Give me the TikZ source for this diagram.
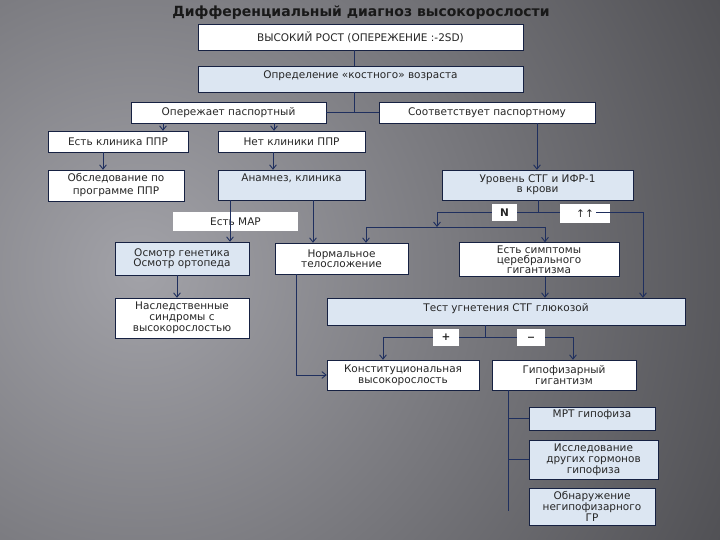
\documentclass[tikz,border=0pt]{standalone}
\usepackage{fontspec}
\setmainfont{DejaVu Sans}
\usetikzlibrary{arrows.meta,positioning,shadows}
\definecolor{boxblue}{HTML}{DCE6F2}
\definecolor{wirenavy}{HTML}{1F2F5E}
\definecolor{bglight}{HTML}{A2A2A8}
\definecolor{bgdark}{HTML}{4C4C50}
\begin{document}
\begin{tikzpicture}[x=1pt,y=-1pt,
box/.style={draw=wirenavy!70!black,fill=white,align=center,inner sep=0pt,text=black!85,font=\fontsize{10.5}{11}\selectfont,drop shadow={opacity=.3,shadow xshift=1.2pt,shadow yshift=-1.2pt}},
bbox/.style={box,fill=boxblue},
tight/.style={font=\fontsize{10.5}{10}\selectfont},
tag/.style={fill=white,inner sep=0pt,text=black!85,font=\fontsize{10.5}{11}\selectfont},
wire/.style={draw=wirenavy,line width=.9pt},
arr/.style={wire,-{Straight Barb[length=1.5mm,width=2.4mm]}}]
\fill[bgdark] (0,0) rectangle (720,540);
\begin{scope}
\clip (0,0) rectangle (720,540);
\shade[inner color=bglight,outer color=bgdark] (140,270) circle (680pt);
\end{scope}
\useasboundingbox (0,0) rectangle (720,540);
\node[font=\bfseries\fontsize{14}{16}\selectfont,text=black!90](title) at (361,13){Дифференциальный диагноз высокорослости};
\node[box,minimum width=325pt,minimum height=26pt](tall) at (360.5,37){ВЫСОКИЙ РОСТ (ОПЕРЕЖЕНИЕ :-2SD)};
\node[bbox,minimum width=325pt,text height=13pt,text depth=13pt](boneage) at (360.5,79){Определение «костного» возраста};
\node[box,minimum width=195pt,minimum height=21pt](ahead) at (228.5,112.5){Опережает паспортный};
\node[box,minimum width=216pt,minimum height=21pt](matches) at (487,112.5){Соответствует паспортному};
\node[box,minimum width=140pt,minimum height=21pt](clinyes) at (118,141.5){Есть клиника ППР};
\node[box,minimum width=147pt,minimum height=21pt](clinno) at (291.5,141.5){Нет клиники ППР};
\node[box,minimum width=136pt,minimum height=31pt,font=\fontsize{10.5}{13}\selectfont](pprexam) at (116,185.5){Обследование по\\программе ППР};
\node[bbox,minimum width=147pt,text height=12pt,text depth=18pt](history) at (291.5,185){Анамнез, клиника};
\node[bbox,tight,minimum width=191pt,minimum height=30pt](levels) at (537.5,185){Уровень СТГ и ИФР-1\\в крови};
\node[tag,minimum width=125pt,minimum height=19pt](marfan) at (235.5,221.5){Есть МАР};
\node[bbox,tight,minimum width=134pt,minimum height=33pt](genetic) at (182,258.5){Осмотр генетика\\Осмотр ортопеда};
\node[box,minimum width=134pt,minimum height=40pt](hered) at (182,318){Наследственные\\синдромы с\\высокорослостью};
\node[box,tight,minimum width=133pt,minimum height=31pt](normal) at (341.5,258.5){Нормальное\\телосложение};
\node[box,tight,minimum width=160pt,minimum height=34pt](cerebral) at (539,259.5){Есть симптомы\\церебрального\\гигантизма};
\node[bbox,minimum width=358pt,text height=13pt,text depth=14pt](test) at (506,311.5){Тест угнетения СТГ глюкозой};
\node[box,minimum width=152pt,minimum height=30pt](constit) at (403,375){Конституциональная\\высокорослость};
\node[box,minimum width=144pt,minimum height=30pt](pituitary) at (564,375){Гипофизарный\\гигантизм};
\node[bbox,minimum width=126pt,text height=10pt,text depth=13pt](mri) at (592,418.5){МРТ гипофиза};
\node[bbox,minimum width=129pt,minimum height=39pt](others) at (593.5,459.5){Исследование\\других гормонов\\гипофиза};
\node[bbox,minimum width=126pt,minimum height=37pt](ectopic) at (592,506.5){Обнаружение\\негипофизарного\\ГР};
\node[tag,minimum width=25pt,minimum height=17pt,font=\bfseries\fontsize{10.5}{11}\selectfont](nlab) at (504.5,212.5){N};
\node[tag,minimum width=50pt,minimum height=19pt](uplab) at (585,213.5){↑↑\hspace{10pt}};
\node[tag,minimum width=26pt,minimum height=17pt,font=\bfseries\fontsize{10.5}{11}\selectfont](plus) at (446,337){+};
\node[tag,minimum width=28pt,minimum height=17pt,font=\bfseries\fontsize{12}{11}\selectfont](minus) at (531,337){\_};
\coordinate(split) at (354,112.5);
\coordinate(lvl) at (538,212.5);
\coordinate(jn) at (437,212.5);
\coordinate(jup) at (643,212.5);
\coordinate(fork) at (437,227);
\coordinate(forkl) at (366,227);
\coordinate(forkr) at (545,227);
\coordinate(tfork) at (485,337);
\coordinate(tl) at (383,337);
\coordinate(tr) at (573,337);
\coordinate(ptail) at (508,511);
\draw[wire](tall.south -| split)--(boneage.north -| split);
\draw[wire](boneage.south -| split)--(split);
\draw[wire](ahead)--(matches);
\draw[arr](ahead.south -| 163,0)--(clinyes.north -| 163,0);
\draw[arr](ahead.south -| 274,0)--(clinno.north -| 274,0);
\draw[arr](clinyes.south -| 103,0)--(pprexam.north -| 103,0);
\draw[arr](clinno.south -| 273,0)--(history.north -| 273,0);
\draw[arr](matches.south -| 537,0)--(levels.north -| 537,0);
\draw[arr](history.south -| 230,0)--(genetic.north -| 230,0);
\draw[arr](history.south -| 313,0)--(normal.north -| 313,0);
\draw[arr](genetic.south -| 177,0)--(hered.north -| 177,0);
\draw[wire](levels.south -| lvl)--(lvl);
\draw[wire](jn)--(nlab)--(uplab.west |- jn);
\draw[wire]([xshift=-14pt]uplab.east |- jn)--(jup);
\draw[arr](jn)--(fork);
\draw[wire](forkl)--(forkr);
\draw[arr](forkl)--(normal.north -| forkl);
\draw[arr](forkr)--(cerebral.north -| forkr);
\draw[arr](jup)--(test.north -| jup);
\draw[arr](cerebral.south -| 545,0)--(test.north -| 545,0);
\draw[wire](test.south -| tfork)--(tfork);
\draw[wire](tl)--(plus)--(minus)--(tr);
\draw[arr](tl)--(constit.north -| tl);
\draw[arr](tr)--(pituitary.north -| tr);
\draw[arr](normal.south -| 296,0)|-(constit.west);
\draw[wire](pituitary.south -| ptail)--(ptail);
\draw[wire](mri.west -| ptail)--(mri.west);
\draw[wire](others.west -| ptail)--(others.west);
\end{tikzpicture}
\end{document}
